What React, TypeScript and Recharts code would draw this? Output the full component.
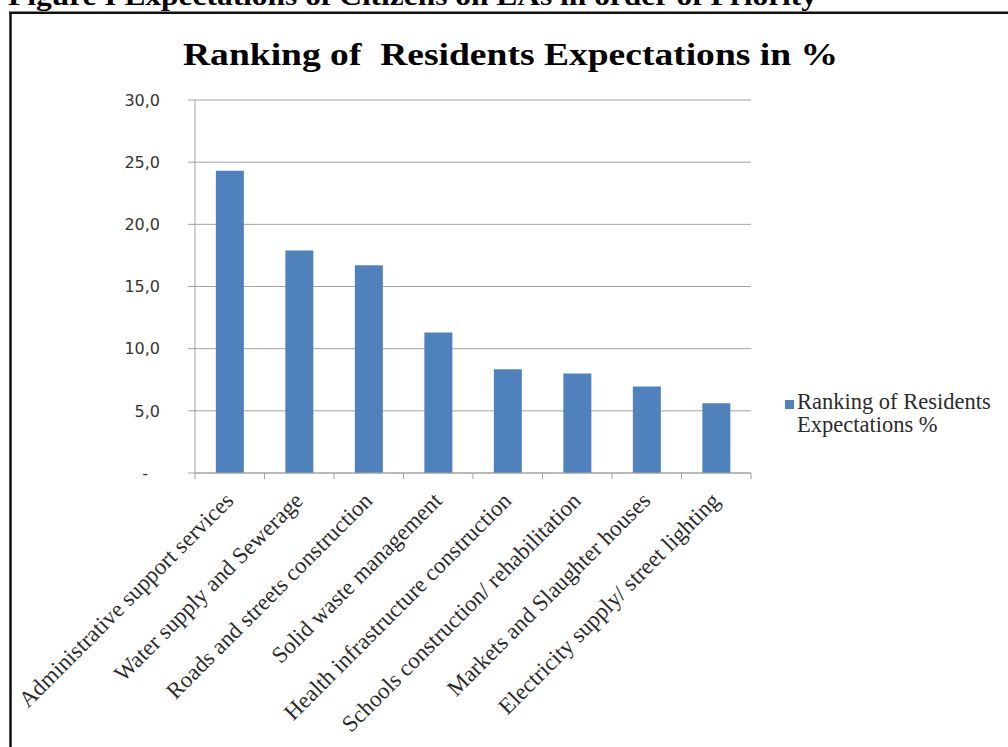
import React from "react";
import { BarChart, Bar, XAxis, YAxis, CartesianGrid, Legend } from "recharts";

const categories = [
  "Administrative support services",
  "Water supply and Sewerage",
  "Roads and streets construction",
  "Solid waste management",
  "Health infrastructure construction",
  "Schools construction/ rehabilitation",
  "Markets and Slaughter houses",
  "Electricity supply/ street lighting",
];
const values = [24.3, 17.9, 16.7, 11.3, 8.35, 8.0, 6.95, 5.6];
const yTicks = [0, 5, 10, 15, 20, 25, 30];
const seriesName = "Ranking of Residents Expectations %";
const chartTitle = "Ranking of  Residents Expectations in %";
const caption = "Figure I Expectations of Citizens on LAs in order of Priority";

const data = categories.map((name, i) => ({ name, value: values[i] }));

const W = 1008;
const H = 747;
const PLOT_LEFT = 195;
const PLOT_RIGHT = 751;
const PLOT_TOP = 100;
const PLOT_BOTTOM = 473;
const BAND = (PLOT_RIGHT - PLOT_LEFT) / categories.length;
const GRID = "#a3a3a3";
const SERIF = "'Liberation Serif', 'Times New Roman', serif";

function CategoryTick(props: any) {
  const { x, y, payload, index } = props;
  const half = BAND / 2;
  const tx = x + 5;
  const ty = y + 29;
  return (
    <g>
      <line x1={x - half} x2={x - half} y1={y} y2={y + 6} stroke={GRID} />
      {index === categories.length - 1 && (
        <line x1={x + half} x2={x + half} y1={y} y2={y + 6} stroke={GRID} />
      )}
      <text
        x={tx}
        y={ty}
        transform={`rotate(-45 ${tx} ${ty})`}
        textAnchor="end"
        fontFamily={SERIF}
        fontSize={23}
        fill="#2b2b2b"
      >
        {payload.value}
      </text>
    </g>
  );
}

function ValueTick(props: any) {
  const { x, y, payload } = props;
  const v = payload.value;
  const label = v === 0 ? "-" : v.toFixed(1).replace(".", ",");
  return (
    <text
      x={v === 0 ? x - 12 : x}
      y={y}
      dy="0.355em"
      textAnchor="end"
      fontFamily="'DejaVu Sans', sans-serif"
      fontSize={16}
      fill="#333"
    >
      {label}
    </text>
  );
}

function LegendBox(props: any) {
  const item = props.payload && props.payload[0];
  if (!item) return null;
  return (
    <div style={{ display: "flex", alignItems: "flex-start", fontFamily: SERIF }}>
      <span
        style={{
          display: "inline-block",
          width: 9,
          height: 9,
          marginTop: 10,
          marginRight: 3,
          background: item.color,
          flex: "none",
        }}
      />
      <span style={{ width: 210, fontSize: 22.5, lineHeight: "23px", color: "#2b2b2b" }}>
        {item.value}
      </span>
    </div>
  );
}

export default function App() {
  return (
    <div style={{ position: "absolute", left: 0, top: 0, width: W, height: H, background: "#fff", overflow: "hidden" }}>
      <BarChart
        width={W}
        height={H}
        data={data}
        barCategoryGap="30%"
        margin={{ top: PLOT_TOP, right: W - PLOT_RIGHT, bottom: H - PLOT_BOTTOM - 30, left: PLOT_LEFT - 60 }}
      >
        <CartesianGrid vertical={false} stroke={GRID} />
        <XAxis
          dataKey="name"
          height={30}
          interval={0}
          tickSize={0}
          tickMargin={0}
          tickLine={false}
          axisLine={{ stroke: GRID }}
          tick={<CategoryTick />}
        />
        <YAxis
          width={60}
          domain={[0, 30]}
          ticks={yTicks}
          interval={0}
          tickSize={7}
          tickMargin={28}
          tickLine={{ stroke: GRID }}
          axisLine={{ stroke: GRID }}
          tick={<ValueTick />}
        />
        <Legend
          layout="horizontal"
          verticalAlign="middle"
          align="center"
          content={<LegendBox />}
          wrapperStyle={{ left: 785, top: 390, width: 225, right: "auto" }}
        />
        <Bar dataKey="value" name={seriesName} fill="#4f81bd" isAnimationActive={false} />
      </BarChart>
      <svg width={W} height={H} style={{ position: "absolute", left: 0, top: 0, pointerEvents: "none" }}>
        <text
          x={8}
          y={5}
          fontFamily={SERIF}
          fontWeight="bold"
          fontSize={28}
          textLength={809}
          lengthAdjust="spacingAndGlyphs"
          fill="#000"
        >
          {caption}
        </text>
        <line x1={9} x2={W} y1={12.8} y2={12.8} stroke="#111" strokeWidth={2.5} />
        <line x1={10.5} x2={10.5} y1={12} y2={H} stroke="#111" strokeWidth={2.5} />
        <text
          x={183}
          y={65}
          fontFamily={SERIF}
          fontWeight="bold"
          fontSize={32}
          textLength={655}
          lengthAdjust="spacingAndGlyphs"
          style={{ whiteSpace: "pre" }}
          fill="#000"
        >
          {chartTitle}
        </text>
      </svg>
    </div>
  );
}
